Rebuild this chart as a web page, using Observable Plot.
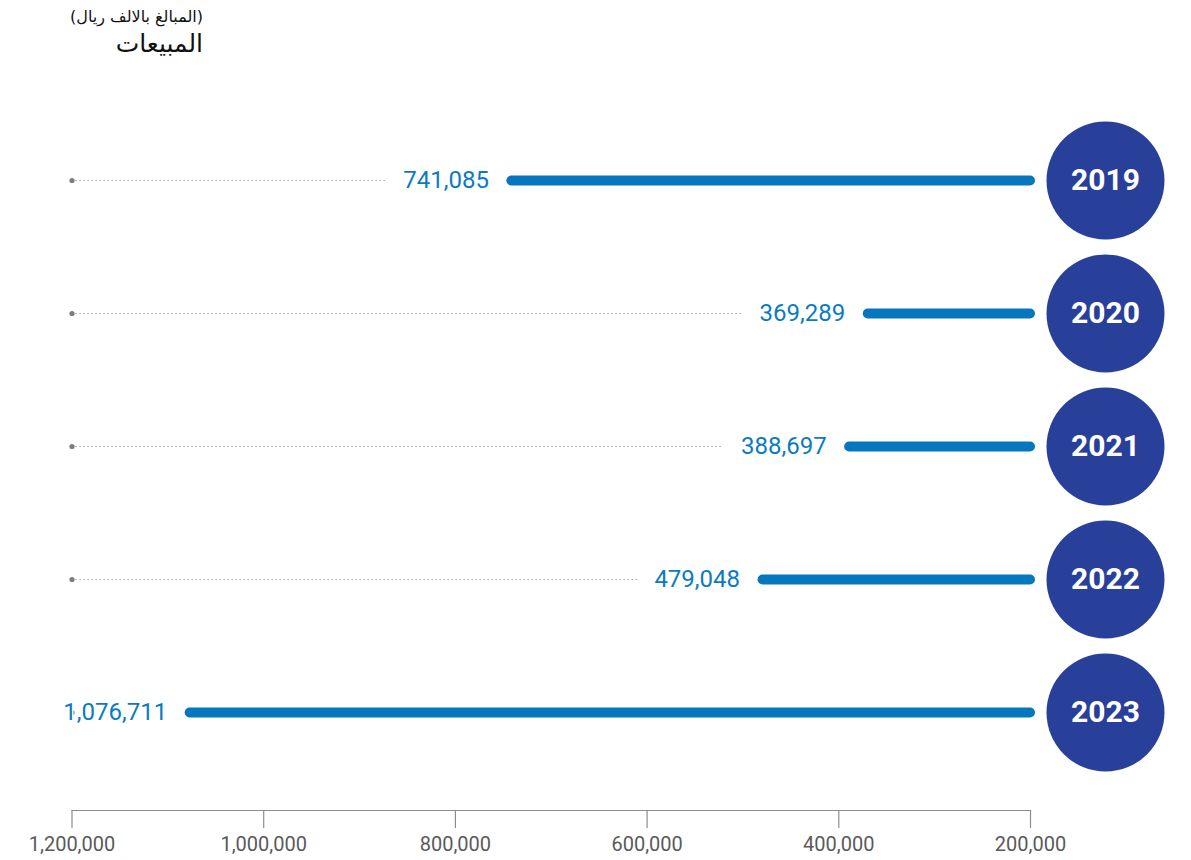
<!DOCTYPE html>
<html>
<head>
<meta charset="utf-8">
<script src="https://cdn.jsdelivr.net/npm/d3@7"></script>
<script src="https://cdn.jsdelivr.net/npm/@observablehq/plot@0.6"></script>
<style>
  body { margin: 0; background: #fff; }
  #wrap { width: 1191px; position: relative; }
  #header { position: relative; height: 65px; width: 1191px; font-family: "DejaVu Sans", sans-serif; }
  #sub { position: absolute; right: 988px; top: 7px; font-size: 16px; color: #111; direction: rtl; white-space: nowrap; }
  #title { position: absolute; right: 988px; top: 29px; font-size: 25px; color: #111; direction: rtl; white-space: nowrap; }
  svg { display: block; }
</style>
</head>
<body>
<div id="wrap">
  <div id="header"><div id="sub"></div><div id="title"></div></div>
  <div id="chart"></div>
</div>
<script>
const titleText = "المبيعات";
const subtitleText = "(المبالغ بالالف ريال)";
const years = ["2019", "2020", "2021", "2022", "2023"];
const sales = [741085, 369289, 388697, 479048, 1076711];
const tickValues = [1200000, 1000000, 800000, 600000, 400000, 200000];
const axisMax = 1200000;
const axisMin = 200000;

document.getElementById("sub").textContent = subtitleText;
document.getElementById("title").textContent = titleText;

const fmt = d3.format(",");
const W = 1191, H = 795, mL = 71.5, mR = 161, mT = 17, mB = 50;
const px = d3.scaleLinear().domain([axisMax, axisMin]).range([mL, W - mR]);

const ctx = document.createElement("canvas").getContext("2d");
ctx.font = "24px Roboto";
const labelGap = 23;
const data = years.map((y, i) => {
  const v = sales[i];
  const tw = ctx.measureText(fmt(v)).width;
  const endPx = px(v) - labelGap - tw - 17;
  return { year: y, value: v, label: fmt(v), dotEnd: px.invert(endPx) };
});
const dotted = data.filter(d => d.dotEnd < axisMax);

const chart = Plot.plot({
  width: W,
  height: H,
  marginLeft: mL,
  marginRight: mR,
  marginTop: mT,
  marginBottom: mB,
  style: { fontFamily: "Roboto, sans-serif", background: "#fff" },
  x: { domain: [axisMax, axisMin], axis: null },
  y: { type: "point", domain: years, range: [114, 648], padding: 0, axis: null },
  marks: [
    Plot.frame({ anchor: "bottom", stroke: "#8a8f94", strokeWidth: 1.2 }),
    Plot.axisX({
      ticks: tickValues,
      tickFormat: fmt,
      tickSize: 18,
      tickPadding: 8,
      fontSize: 20,
      stroke: "#8a8f94",
      color: "#5a5a5a",
      strokeWidth: 1.2
    }),
    Plot.ruleY(dotted, {
      y: "year", x1: axisMax, x2: "dotEnd",
      stroke: "#8c8c8c", strokeWidth: 1, strokeDasharray: "1.2,2.8"
    }),
    Plot.dot(data, { y: "year", x: axisMax, r: 2.6, fill: "#7d7d7d" }),
    Plot.ruleY(data, {
      y: "year", x1: axisMin, x2: "value",
      stroke: "#0677bf", strokeWidth: 10, strokeLinecap: "round"
    }),
    Plot.text(data, {
      y: "year", x: "value", text: "label", dx: -labelGap,
      textAnchor: "end", fontSize: 24, fill: "#0a7bc1",
      stroke: "#fff", strokeWidth: 3, paintOrder: "stroke"
    }),
    Plot.dot(data, { y: "year", x: axisMin, dx: 75, r: 59, fill: "#29409a" }),
    Plot.text(data, {
      y: "year", x: axisMin, dx: 75, text: "year",
      fontSize: 30, fontWeight: "bold", fill: "#fff"
    })
  ]
});
document.getElementById("chart").appendChild(chart);
</script>
</body>
</html>
